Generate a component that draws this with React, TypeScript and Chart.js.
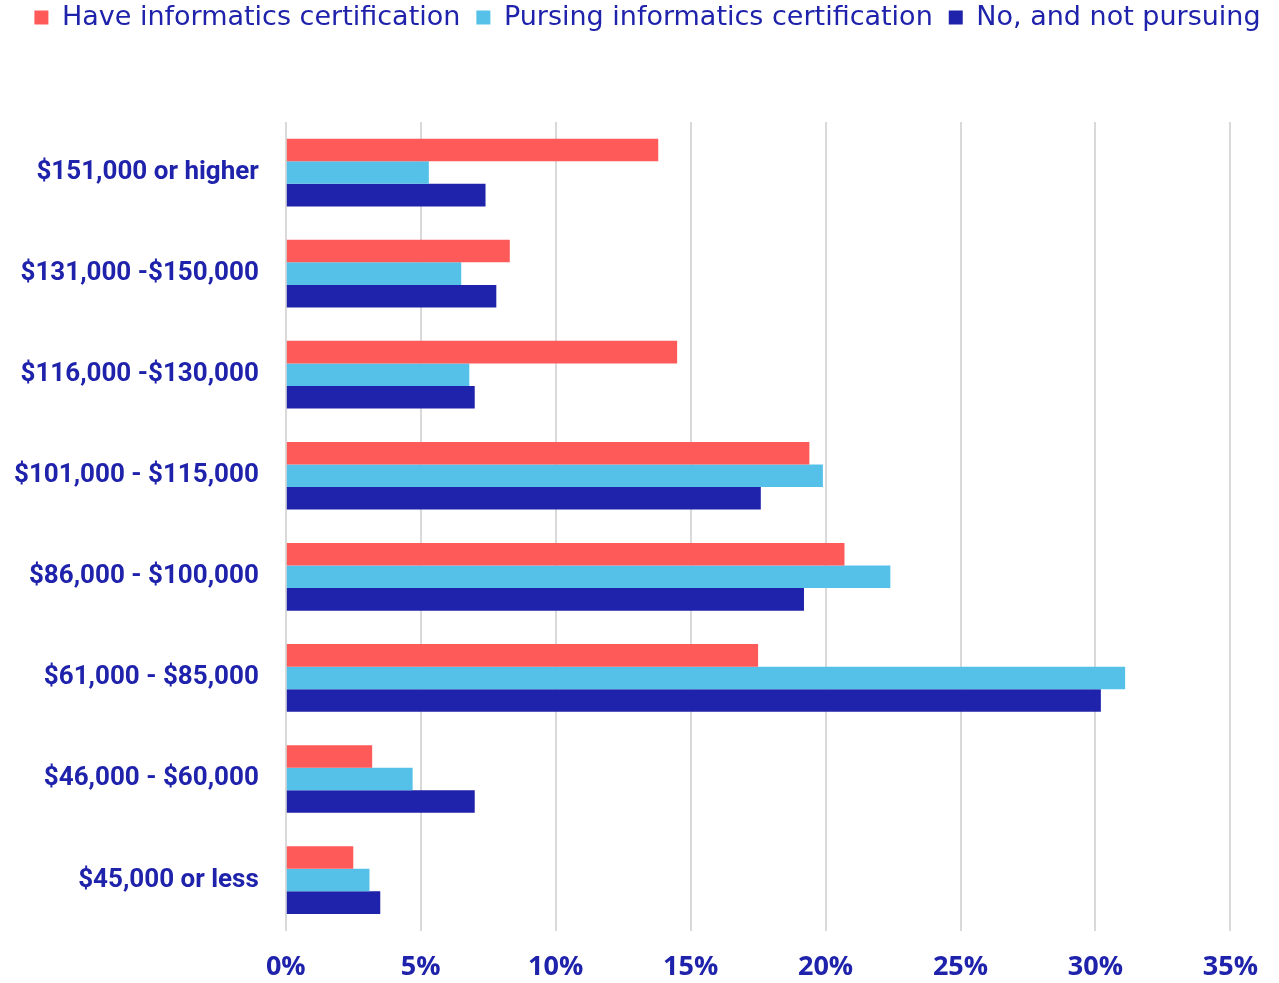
import React, { useEffect, useRef } from "react";
import { Chart, registerables } from "chart.js";

Chart.register(...registerables);

const categories = [
  "$151,000 or higher",
  "$131,000 -$150,000",
  "$116,000 -$130,000",
  "$101,000 - $115,000",
  "$86,000 - $100,000",
  "$61,000 - $85,000",
  "$46,000 - $60,000",
  "$45,000 or less",
];

const haveCert = [13.8, 8.3, 14.5, 19.4, 20.7, 17.5, 3.2, 2.5];
const pursuingCert = [5.3, 6.5, 6.8, 19.9, 22.4, 31.1, 4.7, 3.1];
const notPursuing = [7.4, 7.8, 7.0, 17.6, 19.2, 30.2, 7.0, 3.5];

const xTicks = [0, 5, 10, 15, 20, 25, 30, 35];

const NAVY = "#1F22AA";

export default function App() {
  const ref = useRef<HTMLCanvasElement | null>(null);

  useEffect(() => {
    if (!ref.current) return;
    const legendSpacer = {
      id: "legendSpacer",
      beforeInit(chart: any) {
        const orig = chart.legend.fit;
        chart.legend.fit = function () {
          orig.bind(chart.legend)();
          this.height += 81;
        };
      },
      afterLayout(chart: any) {
        if (chart.legend) {
          chart.legend.left += 20;
          chart.legend.right += 20;
        }
      },
    };
    const chart = new Chart(ref.current, {
      type: "bar",
      data: {
        labels: categories,
        datasets: [
          { label: "Have informatics certification", data: haveCert, backgroundColor: "#FF5A5A" },
          { label: "Pursing informatics certification", data: pursuingCert, backgroundColor: "#56C1E8" },
          { label: "No, and not pursuing", data: notPursuing, backgroundColor: NAVY },
        ],
      },
      options: {
        indexAxis: "y",
        animation: false,
        responsive: true,
        maintainAspectRatio: false,
        datasets: { bar: { categoryPercentage: 0.67, barPercentage: 1.0 } },
        layout: { padding: { left: -5, right: 19, top: -12, bottom: -22 } },
        plugins: {
          legend: {
            position: "top",
            align: "center",
            labels: {
              boxWidth: 14,
              boxHeight: 14,
              padding: 16,
              color: NAVY,
              font: { family: "DejaVu Sans", size: 27 },
            },
          },
          tooltip: { enabled: false },
        },
        scales: {
          x: {
            type: "linear",
            min: 0,
            max: 35,
            afterBuildTicks(axis: any) {
              axis.ticks = xTicks.map((v) => ({ value: v }));
            },
            grid: { color: "#D9D9D9", lineWidth: 2, drawTicks: false },
            border: { display: false },
            ticks: {
              padding: 21,
              color: NAVY,
              font: { family: "Open Sans", size: 27, weight: "bold" },
              callback: (v: any) => v + "%",
            },
          },
          y: {
            grid: { display: false },
            border: { display: false },
            ticks: {
              padding: 19,
              color: NAVY,
              font: { family: "Roboto", size: 26, weight: "bold" },
            },
          },
        },
      },
      plugins: [legendSpacer],
    });
    return () => chart.destroy();
  }, []);

  return (
    <div style={{ position: "fixed", left: 0, top: 0, width: 1279, height: 983, background: "#fff" }}>
      <canvas ref={ref} />
    </div>
  );
}
